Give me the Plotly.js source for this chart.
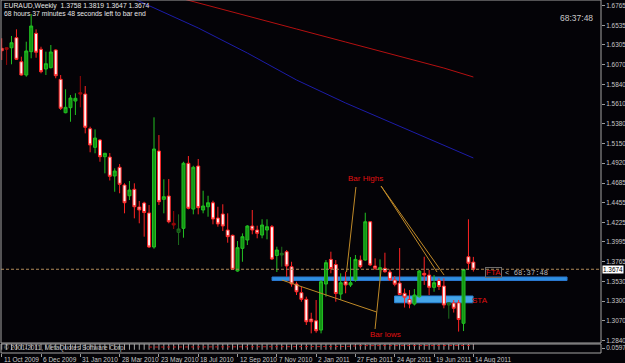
<!DOCTYPE html>
<html><head><meta charset="utf-8">
<script src="https://cdn.plot.ly/plotly-3.0.1.min.js"></script>
<style>html,body{margin:0;padding:0;background:#040307;}#c{width:625px;height:363px;}</style>
</head><body><div id="c"></div>
<script>
// ---------- DATA (EURAUD weekly) ----------
const weeks = [
"2009-10-11","2009-10-18","2009-10-25","2009-11-01","2009-11-08","2009-11-15","2009-11-22","2009-11-29","2009-12-06","2009-12-13","2009-12-20","2009-12-27",
"2010-01-03","2010-01-10","2010-01-17","2010-01-24","2010-01-31","2010-02-07","2010-02-14","2010-02-21","2010-02-28","2010-03-07","2010-03-14","2010-03-21","2010-03-28",
"2010-04-04","2010-04-11","2010-04-18","2010-04-25","2010-05-02","2010-05-09","2010-05-16","2010-05-23","2010-05-30","2010-06-06","2010-06-13","2010-06-20",
"2010-06-27","2010-07-04","2010-07-11","2010-07-18","2010-07-25","2010-08-01","2010-08-08","2010-08-15","2010-08-22","2010-08-29","2010-09-05","2010-09-12",
"2010-09-19","2010-09-26","2010-10-03","2010-10-10","2010-10-17","2010-10-24","2010-10-31","2010-11-07","2010-11-14","2010-11-21","2010-11-28","2010-12-05",
"2010-12-12","2010-12-19","2010-12-26","2011-01-02","2011-01-09","2011-01-16","2011-01-23","2011-01-30","2011-02-06","2011-02-13","2011-02-20","2011-02-27",
"2011-03-06","2011-03-13","2011-03-20","2011-03-27","2011-04-03","2011-04-10","2011-04-17","2011-04-24","2011-05-01","2011-05-08","2011-05-15","2011-05-22",
"2011-05-29","2011-06-05","2011-06-12","2011-06-19","2011-06-26","2011-07-03","2011-07-10","2011-07-17","2011-07-24","2011-07-31","2011-08-07","2011-08-14"];
const open = [1.6265,1.6272,1.6272,1.6390,1.6108,1.5952,1.6226,1.6441,1.6254,1.6023,1.6038,1.6246,1.5902,1.5510,1.5569,1.5647,1.5745,1.5729,1.5322,1.5104,
1.5190,1.4994,1.4990,1.4768,1.4870,1.4662,1.4536,1.4612,1.4404,1.4451,1.4334,1.3935,1.5061,1.4494,1.4533,1.4213,1.4107,1.4154,1.4917,1.4380,
1.4885,1.4369,1.4407,1.4454,1.4275,1.4322,1.4134,1.4072,1.3653,1.3919,1.4017,1.4181,1.4134,1.4075,1.4134,1.4173,1.3835,1.3841,1.3880,1.3704,
1.3501,1.3399,1.3321,1.3090,1.3070,1.2961,1.3501,1.3790,1.3729,1.3383,1.3528,1.3489,1.3548,1.3782,1.3782,1.4231,1.3712,1.3673,1.3685,1.3641,
1.3548,1.3512,1.3392,1.3319,1.3266,1.3352,1.3626,1.3606,1.3462,1.3542,1.3477,1.3254,1.3278,1.3281,1.3040,1.3821,1.3758];
const high = [1.6383,1.6275,1.6410,1.6488,1.6167,1.6343,1.6668,1.6488,1.6284,1.6226,1.6304,1.6254,1.5952,1.5785,1.5718,1.5738,1.5941,1.5823,1.5346,1.5315,
1.5200,1.5040,1.5037,1.4858,1.4908,1.4682,1.4709,1.4682,1.4474,1.4466,1.4427,1.5456,1.5248,1.4729,1.4732,1.4357,1.4318,1.4935,1.5002,1.4888,
1.4967,1.4595,1.4536,1.4478,1.4407,1.4436,1.4330,1.4080,1.4005,1.4095,1.4190,1.4369,1.4185,1.4260,1.4260,1.4193,1.3938,1.3938,1.3900,1.3762,
1.3528,1.3469,1.3352,1.3164,1.3313,1.3548,1.3782,1.3880,1.3782,1.3626,1.3645,1.3817,1.3841,1.3835,1.4337,1.4240,1.3802,1.3790,1.3868,1.3673,
1.3595,1.3923,1.3448,1.3430,1.3442,1.3665,1.3821,1.3665,1.3606,1.3568,1.3568,1.3285,1.3313,1.3313,1.3673,1.4260,1.3819];
const low = [1.6128,1.6070,1.6078,1.6128,1.5945,1.5932,1.6148,1.6155,1.5972,1.5952,1.6030,1.5914,1.5542,1.5503,1.5404,1.5483,1.5573,1.5268,1.5046,1.5034,
1.4935,1.4799,1.4715,1.4583,1.4565,1.4330,1.4486,1.4271,1.4213,1.4056,1.3923,1.3915,1.4427,1.4330,1.4213,1.4146,1.3958,1.4044,1.4377,1.4318,
1.4318,1.4330,1.4290,1.4201,1.4173,1.4122,1.3985,1.3665,1.3645,1.3762,1.3958,1.4084,1.4037,1.4037,1.4025,1.3782,1.3641,1.3704,1.3586,1.3469,
1.3372,1.3293,1.3020,1.2922,1.2929,1.2922,1.3352,1.3626,1.3293,1.3313,1.3392,1.3466,1.3528,1.3685,1.3775,1.3712,1.3665,1.3554,1.3633,1.3536,
1.3474,1.3372,1.3225,1.3216,1.3249,1.3340,1.3490,1.3372,1.3410,1.3430,1.3216,1.3094,1.3166,1.2943,1.2949,1.3665,1.3647];
const close = [1.6237,1.6254,1.6331,1.6136,1.5952,1.6234,1.6527,1.6219,1.5991,1.6085,1.6222,1.5944,1.5562,1.5573,1.5682,1.5679,1.5729,1.5339,1.5131,1.5213,
1.4994,1.5034,1.4764,1.4826,1.4670,1.4454,1.4603,1.4407,1.4369,1.4339,1.3935,1.5084,1.4466,1.4525,1.4231,1.4193,1.4146,1.4917,1.4389,1.4870,
1.4396,1.4416,1.4454,1.4263,1.4205,1.4181,1.4056,1.3673,1.3927,1.4056,1.4181,1.4134,1.4095,1.4193,1.4173,1.3794,1.3900,1.3861,1.3712,1.3501,
1.3410,1.3321,1.3058,1.3058,1.2953,1.3528,1.3751,1.3683,1.3389,1.3516,1.3489,1.3516,1.3790,1.3704,1.4231,1.3724,1.3685,1.3692,1.3645,1.3551,
1.3498,1.3378,1.3345,1.3266,1.3372,1.3653,1.3606,1.3462,1.3516,1.3471,1.3254,1.3281,1.3216,1.3084,1.3671,1.3744,1.3674];
// candles drawn in the darker shade in the picture
const darkBars = [1,16,35,36,57,91];
// moving averages (bar index -> price)
const maBlueBars = [27,40,50,60,70,80,90,96];
const maBlue     = [1.6844,1.6504,1.6210,1.5894,1.5624,1.5377,1.5131,1.4979];
const maRedBars  = [37,40,50,60,70,80,90,96];
const maRed      = [1.6844,1.6797,1.6644,1.6492,1.6339,1.6187,1.6034,1.5929];
// sub-window indicator
const indHist = [0.065,0.065,0.065,0.065,0.065,0.065,0.065,0.065,0.065,0.065,0.065,0.065,0.065,0.065,0.065,0.065,0.065,0.065,0.065,0.065,
0.065,0.065,0.065,0.065,0.065,0.065,0.065,0.065,0.065,0.065,0.065,0.065,0.065,0.065,0.065,0.065,0.065,0.065,0.065,0.065,
0.065,0.065,0.065,0.065,0.065,0.065,0.065,0.065,0.065,0.065,0.065,0.065,0.065,0.065,0.065,0.065,0.065,0.065,0.065,0.065,
0.065,0.065,0.065,0.065,0.065,0.065,0.065,0.065,0.065,0.065,0.065,0.065,0.065,0.065,0.065,0.065,0.065,0.065,0.065,0.065,
0.065,0.065,0.065,0.065,0.065,0.065,0.065,0.065,0.065,0.065,0.065,0.065,0.065,0.065,0.065,0.065,0.065];
const indLineBars = [30,40,50,60,70,73,80,90,96];
const indLine     = [0.034,0.033,0.032,0.031,0.028,0.018,0.017,0.017,0.017];
// axis labels
const yTicks = [1.6765,1.6535,1.6305,1.6070,1.5840,1.5610,1.5380,1.5150,1.4920,1.4685,1.4455,1.4225,1.3995,1.3765,1.3530,1.3300,1.3070,1.2840];
const xLabelBars = [0,8,16,24,32,40,48,56,64,72,80,88,96];
const xLabels = ["11 Oct 2009","6 Dec 2009","31 Jan 2010","28 Mar 2010","23 May 2010","18 Jul 2010","12 Sep 2010","7 Nov 2010","2 Jan 2011","27 Feb 2011","24 Apr 2011","19 Jun 2011","14 Aug 2011"];
const lastPrice = 1.3674;

// ---------- helpers (positions only) ----------
const T0 = Date.UTC(2009, 9, 11), WK = 7 * 864e5;
function at(i) { return new Date(T0 + i * WK).toISOString().replace('T', ' ').slice(0, 19); }
const PX = px => (px - 1) / 600;
const PY = py => (353 - py) / 353;
const FONT = 'Liberation Sans, Arial, sans-serif';

function subset(flagDark) {
  const o = {x: [], open: [], high: [], low: [], close: []};
  weeks.forEach((w, i) => {
    if (darkBars.includes(i) === flagDark) {
      o.x.push(w); o.open.push(open[i]); o.high.push(high[i]); o.low.push(low[i]); o.close.push(close[i]);
    }
  });
  return o;
}
const norm = subset(false), dark = subset(true);

const traces = [
  {type: 'bar', x: weeks, y: indHist, xaxis: 'x', yaxis: 'y2', width: 1.2e8,
   marker: {color: '#a8a8a8', line: {width: 0}}, hoverinfo: 'skip'},
  {type: 'scatter', mode: 'lines', x: indLineBars.map(i => weeks[i]), y: indLine, xaxis: 'x', yaxis: 'y2',
   line: {color: '#c01818', width: 1, dash: 'dot'}, hoverinfo: 'skip'},
  {type: 'scatter', mode: 'lines', x: maRedBars.map(i => weeks[i]), y: maRed,
   line: {color: '#b41010', width: 1}, hoverinfo: 'skip'},
  {type: 'scatter', mode: 'lines', x: maBlueBars.map(i => weeks[i]), y: maBlue,
   line: {color: '#1c1ca8', width: 1}, hoverinfo: 'skip'},
  Object.assign({type: 'candlestick', whiskerwidth: 0, hoverinfo: 'skip',
   increasing: {line: {color: '#22c022', width: 1}, fillcolor: '#149414'},
   decreasing: {line: {color: '#ff2424', width: 1}, fillcolor: '#fff2f2'}}, norm),
  Object.assign({type: 'candlestick', whiskerwidth: 0, hoverinfo: 'skip',
   increasing: {line: {color: '#1e6e1e', width: 1}, fillcolor: '#0f4a0f'},
   decreasing: {line: {color: '#9a0808', width: 1}, fillcolor: '#7a0000'}}, dark)
];

const OR = '#c08a28';
const shapes = [
  // support / resistance zones
  {type: 'rect', xref: 'x', yref: 'y', x0: at(55.02), x1: at(115.07), y0: 1.3542, y1: 1.3583,
   fillcolor: '#2e8fe0', line: {color: '#2a78d0', width: 1}, layer: 'below'},
  {type: 'rect', xref: 'x', yref: 'y', x0: at(79.96), x1: at(95.94), y0: 1.3281, y1: 1.3360,
   fillcolor: '#46a6e8', line: {color: '#2a86d8', width: 1}, layer: 'below'},
  // bid line
  {type: 'line', xref: 'paper', yref: 'y', x0: 0, x1: 1, y0: lastPrice, y1: lastPrice,
   line: {color: '#b08a58', width: 1, dash: '3px,2px'}},
  // Bar Highs lines
  {type: 'line', xref: 'x', yref: 'y', x0: at(72.1), y0: 1.4639, x1: at(70.19), y1: 1.3641, line: {color: OR, width: 1}},
  {type: 'line', xref: 'x', yref: 'y', x0: at(77.21), y0: 1.4650, x1: at(90.04), y1: 1.3606, line: {color: OR, width: 1}},
  {type: 'line', xref: 'x', yref: 'y', x0: at(77.21), y0: 1.4650, x1: at(88.61), y1: 1.3641, line: {color: OR, width: 1}},
  // Bar lows lines
  {type: 'line', xref: 'x', yref: 'y', x0: at(76.34), y0: 1.3172, x1: at(57.0), y1: 1.3548, line: {color: OR, width: 1}},
  {type: 'line', xref: 'x', yref: 'y', x0: at(75.99), y0: 1.2973, x1: at(77.21), y1: 1.3665, line: {color: OR, width: 1}},
  // frames
  {type: 'rect', xref: 'paper', yref: 'paper', x0: 0, x1: 1, y0: PY(343), y1: 1, line: {color: '#a4a4a4', width: 1}},
  {type: 'rect', xref: 'paper', yref: 'paper', x0: 0, x1: 1, y0: 0, y1: PY(344), line: {color: '#a4a4a4', width: 1}}
];

const txt = (text, px, py, size, color, anchor, fam) => ({
  text, xref: 'paper', yref: 'paper', x: PX(px), y: PY(py), xanchor: anchor || 'left', yanchor: 'middle',
  showarrow: false, font: {family: fam || FONT, size, color}
});
const annotations = [
  txt('EURAUD,Weekly\u00a0\u00a01.3758 1.3819 1.3647 1.3674', 2, 6, 6.8, '#e6e6e6'),
  txt('68 hours 37 minutes 48 seconds left to bar end', 2, 13.5, 6.8, '#e6e6e6'),
  txt('68:37:48', 558, 18, 8.5, '#c8c8c8'),
  txt('Bar Highs', 365, 178, 8, '#e01010', 'center'),
  txt('Bar lows', 385, 334, 8, '#e01010', 'center'),
  txt('STA', 470, 300.5, 8, '#e01010'),
  Object.assign(txt('FTA', 485, 272.5, 8, '#e01010'), {bordercolor: '#6c6c6c', borderwidth: 1, borderpad: 0}),
  txt('< 68:37:48', 503, 272.5, 7.2, '#b8b8b8', 'left', 'Liberation Mono, monospace'),
  txt('\u00a9 2001-2011, MetaQuotes Software Corp.', 2, 347.5, 6.5, '#c0c0c0'),
  {text: '1.3674', xref: 'paper', yref: 'y', x: PX(602), y: lastPrice, xanchor: 'left', yanchor: 'middle',
   showarrow: false, bgcolor: '#ffffff', borderpad: 0, font: {family: FONT, size: 6.4, color: '#000000'}}
];
xLabelBars.forEach((b, k) => annotations.push({
  text: xLabels[k], xref: 'x', yref: 'paper', x: weeks[b], y: 0, xanchor: 'left', yanchor: 'top', yshift: -1,
  showarrow: false, font: {family: FONT, size: 6.5, color: '#c8c8c8'}
}));

const layout = {
  width: 625, height: 363,
  margin: {l: 1, r: 24, t: 0, b: 10, pad: 0},
  paper_bgcolor: '#040307', plot_bgcolor: '#040307',
  showlegend: false, hovermode: false, dragmode: false,
  boxgap: 0.22, boxgroupgap: 0.22,
  xaxis: {type: 'date', range: [at(-0.1425), at(121.98)], anchor: 'y2', showgrid: false, zeroline: false,
    showline: false, ticks: 'outside', ticklen: 3, tickcolor: '#9a9a9a', tickmode: 'array',
    tickvals: xLabelBars.map(b => weeks[b]), showticklabels: false, rangeslider: {visible: false}, fixedrange: true},
  yaxis: {domain: [PY(343), 1], range: [1.2809, 1.6832], side: 'right', showgrid: false, zeroline: false,
    showline: false, ticks: 'outside', ticklen: 3, tickcolor: '#9a9a9a', tickmode: 'array',
    tickvals: yTicks, ticktext: yTicks.map(v => v.toFixed(4)),
    tickfont: {family: FONT, size: 6.4, color: '#c8c8c8'}, fixedrange: true},
  yaxis2: {domain: [0, PY(344)], range: [0.1, 0], side: 'right', anchor: 'x', showgrid: false, zeroline: false,
    showline: false, ticks: 'outside', ticklen: 3, tickcolor: '#9a9a9a', tickmode: 'array',
    tickvals: [0.0444], ticktext: ['0.0597'], tickfont: {family: FONT, size: 6.4, color: '#c8c8c8'}, fixedrange: true},
  shapes, annotations
};
Plotly.newPlot('c', traces, layout, {staticPlot: true, displayModeBar: false});
</script>
</body></html>
